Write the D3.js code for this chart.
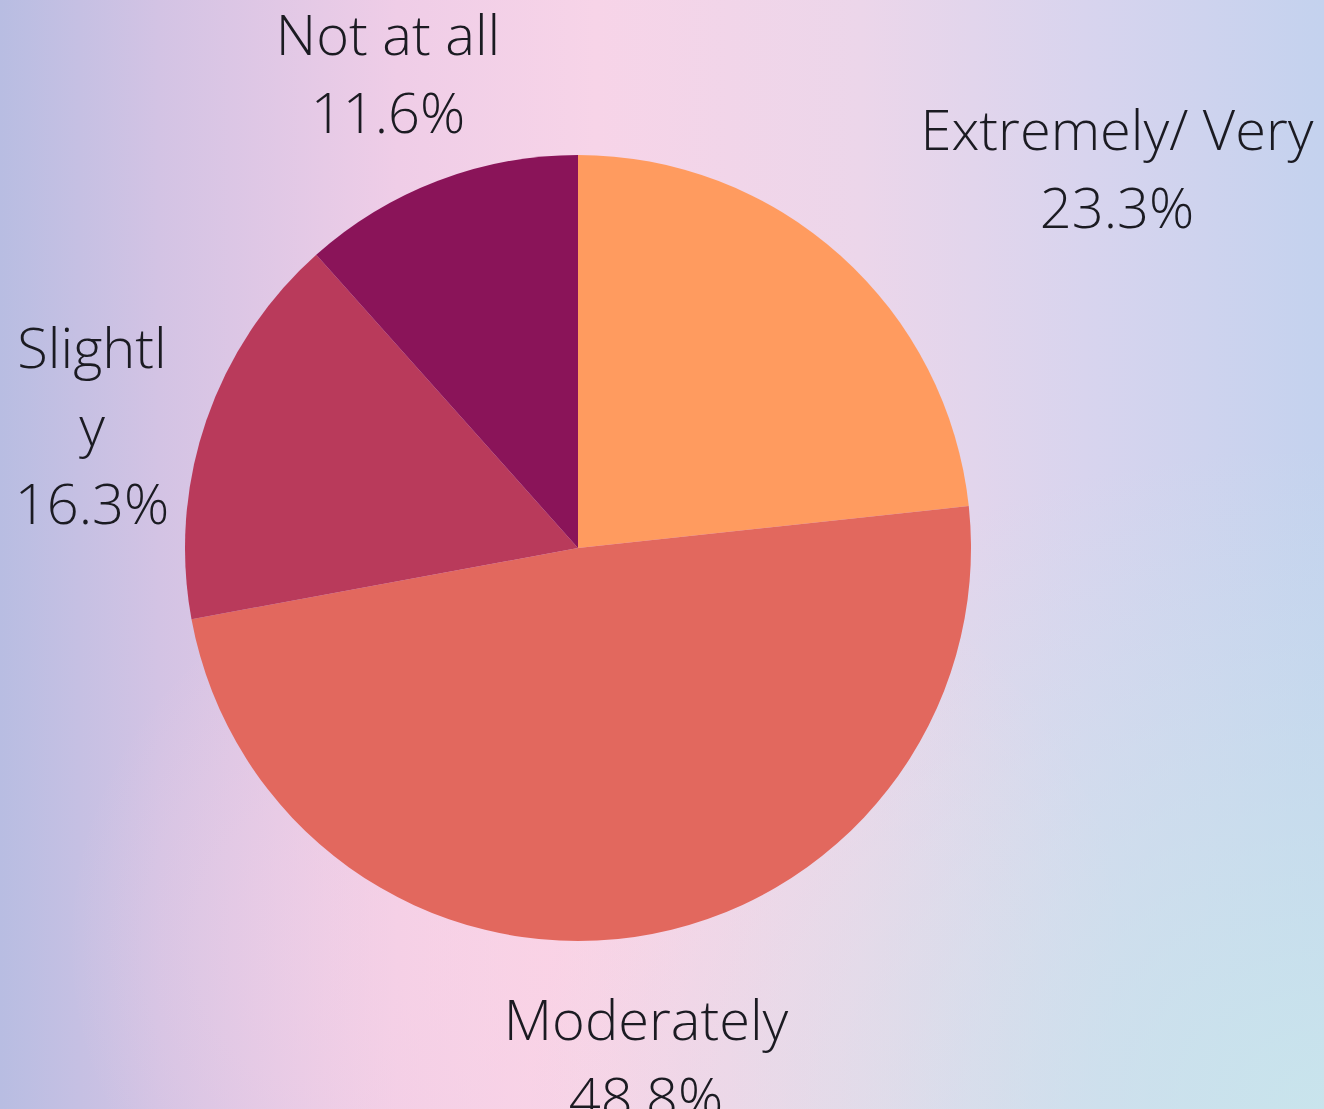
<!DOCTYPE html>
<html>
<head>
<meta charset="utf-8">
<script src="https://cdn.jsdelivr.net/npm/d3@7"></script>
<style>
html,body{margin:0;padding:0;overflow:hidden;}
svg{display:block;}
</style>
</head>
<body>
<svg id="chart" width="1324" height="1109"></svg>
<script>
// ---- data ----
const categories = ["Extremely/ Very", "Moderately", "Slightly", "Not at all"];
const values = [23.3, 48.8, 16.3, 11.6];
const labelLines = [["Extremely/ Very"], ["Moderately"], ["Slightl", "y"], ["Not at all"]];
const colors = ["#FF9B5F", "#E2685E", "#B93A5B", "#8A1459"];

// ---- layout ----
const W = 1324, H = 1109;
const cx = 578, cy = 548, R = 393;
const lineH = 78;
const fontSize = 56;
// first baseline positions of each label block
const labelPos = [[1117, 150], [646, 1040], [92, 368], [388, 55]];

const svg = d3.select("#chart");
const defs = svg.append("defs");

const lg = defs.append("linearGradient").attr("id", "bg").attr("x1", 0).attr("y1", 0).attr("x2", 1).attr("y2", 0);
[[0, "#b8bde2"], [0.12, "#d3c3e4"], [0.3, "#efcde7"], [0.45, "#f7d4e8"], [0.65, "#ecd6ea"], [0.82, "#d8d4ee"], [1, "#c4d2ee"]]
  .forEach(([o, c]) => lg.append("stop").attr("offset", o).attr("stop-color", c));

const rg = defs.append("radialGradient").attr("id", "bg2").attr("cx", 1).attr("cy", 1).attr("r", 0.6);
rg.append("stop").attr("offset", 0).attr("stop-color", "#c9e6ec").attr("stop-opacity", 0.9);
rg.append("stop").attr("offset", 1).attr("stop-color", "#c9e6ec").attr("stop-opacity", 0);

const rg3 = defs.append("radialGradient").attr("id", "bg3").attr("cx", 0.45).attr("cy", 0.85).attr("r", 0.4);
rg3.append("stop").attr("offset", 0).attr("stop-color", "#fbd3e5").attr("stop-opacity", 0.8);
rg3.append("stop").attr("offset", 1).attr("stop-color", "#fbd3e5").attr("stop-opacity", 0);

svg.append("rect").attr("width", W).attr("height", H).attr("fill", "url(#bg)");
svg.append("rect").attr("width", W).attr("height", H).attr("fill", "url(#bg3)");
svg.append("rect").attr("width", W).attr("height", H).attr("fill", "url(#bg2)");

const pie = d3.pie().sort(null).value(d => d);
const arcs = pie(values);
const arc = d3.arc().innerRadius(0).outerRadius(R);

const g = svg.append("g").attr("transform", `translate(${cx},${cy})`);
g.selectAll("path").data(arcs).join("path")
  .attr("d", arc)
  .attr("fill", (d, i) => colors[i]);

const fmt = d3.format(".1f");
const labels = svg.append("g")
  .attr("font-family", "'Open Sans', sans-serif")
  .attr("font-weight", 300)
  .attr("font-size", fontSize)
  .attr("fill", "#1b1b22")
  .attr("text-anchor", "middle");

arcs.forEach((a, i) => {
  const lines = labelLines[i].concat([fmt(values[i]) + "%"]);
  const t = labels.append("text");
  lines.forEach((l, j) => {
    t.append("tspan").attr("x", labelPos[i][0]).attr("y", labelPos[i][1] + j * lineH).text(l);
  });
});
</script>
</body>
</html>
